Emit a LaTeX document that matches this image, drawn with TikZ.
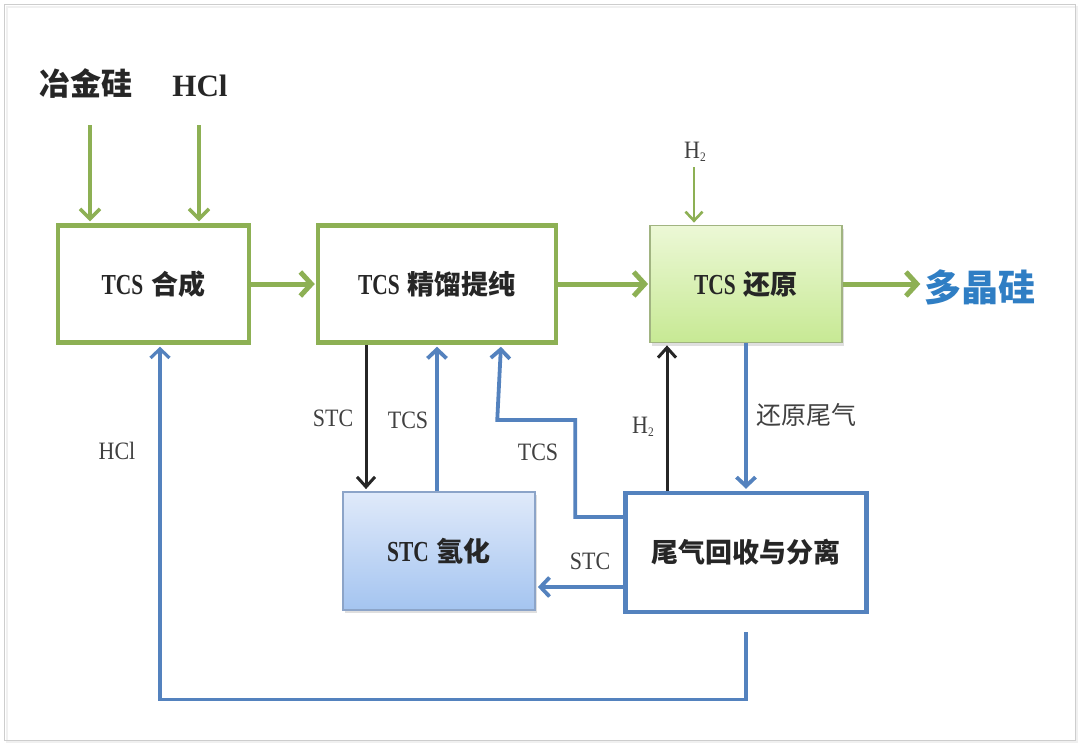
\documentclass[tikz,border=0pt]{standalone}
\usepackage{fontspec}
\setmainfont{Liberation Serif}
\newfontfamily\cjk{Noto Sans CJK SC}
\newfontfamily\latc{Liberation Serif Bold}[FakeStretch=0.74]
\newfontfamily\latm{Liberation Serif}[FakeStretch=0.88]
\usetikzlibrary{arrows.meta,shadows}
\definecolor{cgreen}{RGB}{141,176,84}
\definecolor{cblue}{RGB}{84,130,190}
\definecolor{ctext}{RGB}{47,126,196}
\definecolor{cframe}{RGB}{205,205,205}
\newcommand\boxlab[2]{{\latc\fontsize{29}{32}\selectfont #1}\hspace{0.3em}{\cjk\bfseries #2}}
\newcommand\htwo{H\raisebox{-3pt}{\fontsize{13}{13}\selectfont 2}}
\begin{document}
\begin{tikzpicture}[x=1pt,y=-1pt,
  boxtext/.style={font=\fontsize{27}{30}\selectfont, text=black!85},
  gbox/.style={boxtext, draw=cgreen, line width=4.5pt, fill=white, rectangle, inner sep=0pt},
  bbox/.style={boxtext, draw=cblue, line width=4.5pt, fill=white, rectangle, inner sep=0pt},
  redbox/.style={boxtext, draw=cgreen!70!gray!80, line width=1.8pt, top color={rgb,255:red,236;green,248;blue,214}, bottom color={rgb,255:red,199;green,233;blue,148}, rectangle, inner sep=0pt, drop shadow={opacity=0.25, shadow xshift=2pt, shadow yshift=-3pt}},
  hydbox/.style={boxtext, draw={rgb,255:red,140;green,164;blue,200}, line width=1.8pt, top color={rgb,255:red,224;green,234;blue,250}, bottom color={rgb,255:red,164;green,196;blue,240}, rectangle, inner sep=0pt, drop shadow={opacity=0.25, shadow xshift=2pt, shadow yshift=-3pt}},
  garrow/.style={draw=cgreen, line width=5pt, -{Straight Barb[length=11pt,width=24pt]}, shorten >=1pt},
  gtarrow/.style={draw=cgreen, line width=3.5pt, -{Straight Barb[length=10pt,width=20pt]}, shorten >=2pt},
  gharrow/.style={draw=cgreen, line width=2.6pt, -{Straight Barb[length=9pt,width=17pt]}, shorten >=2pt},
  barrow/.style={draw=cblue, line width=3.8pt, -{Straight Barb[length=9pt,width=19pt]}, shorten >=2pt},
  karrow/.style={draw=black!85, line width=3pt, -{Straight Barb[length=10pt,width=18pt]}, shorten >=2pt},
  lab/.style={font=\latm\fontsize{25}{27}\selectfont, text=black!75, inner sep=0pt},
  cnlab/.style={font=\cjk\fontsize{25}{27}\selectfont, text=black!75, inner sep=0pt},
  toplab/.style={font=\fontsize{31}{34}\selectfont, text=black!85, inner sep=0pt}
]
\useasboundingbox (0,0) rectangle (1080,745);
\fill[white] (0,0) rectangle (1080,745);
\draw[draw=black!6, line width=2pt] (7,7) rectangle (1077,742);
\draw[draw=cframe, line width=1pt] (4,4) rectangle (1075,740);

% boxes
\node[gbox, minimum width=191pt, minimum height=117pt] (syn) at (153.5,284) {\boxlab{TCS}{合成}};
\node[gbox, minimum width=238pt, minimum height=117pt] (pur) at (437,284) {\boxlab{TCS}{精馏提纯}};
\node[redbox, minimum width=192pt, minimum height=117pt] (red) at (746,284) {\boxlab{TCS}{还原}};
\node[hydbox, minimum width=192pt, minimum height=118pt] (hyd) at (439,551) {\boxlab{STC}{氢化}};
\node[bbox, minimum width=241pt, minimum height=119pt] (sep) at (746,552.5) {{\cjk\bfseries 尾气回收与分离}};

% top inputs
\node[toplab] (mg) at (86,84) {\cjk\bfseries 冶金硅};
\node[toplab] (hcl) at (200,86) {\bfseries HCl};
\node[font=\cjk\bfseries\fontsize{37}{40}\selectfont, text=ctext, inner sep=3pt] (poly) at (980,287) {多晶硅};
\node[lab] (h2in) at (695,152) {\htwo};

\coordinate (x90) at (90,0);
\coordinate (x199) at (199,0);
\coordinate (x366) at (366,0);
\coordinate (x437) at (437,0);
\coordinate (x501) at (501,0);
\coordinate (x667) at (667,0);
\coordinate (x694) at (694,0);
\coordinate (x160) at (160,0);
\coordinate (y517) at (0,517);
\coordinate (y587) at (0,587);
\coordinate (mgs) at (90,125);
\coordinate (hcls) at (199,125);
\coordinate (h2s) at (694,167);

\draw[gtarrow] (mgs) -- (syn.north -| x90);
\draw[gtarrow] (hcls) -- (syn.north -| x199);
\draw[gharrow] (h2s) -- (red.north -| x694);

\draw[garrow] (syn.east) -- (pur.west);
\draw[garrow] (pur.east) -- (red.west);
\draw[garrow] (red.east) -- (red.east -| poly.west);

% middle connections
\draw[karrow] (pur.south -| x366) -- (hyd.north -| x366);
\draw[barrow] (hyd.north -| x437) -- (pur.south -| x437);
\draw[barrow] (sep.west |- y517) -- ++(-48,0) -- ++(0,-97) -- ++(-78,0) -- (pur.south -| x501);
\draw[karrow] (sep.north -| x667) -- (red.south -| x667);
\draw[barrow] (red.south) -- (sep.north);
\draw[barrow] (sep.west |- y587) -- (hyd.east |- y587);
\draw[barrow, line width=3.2pt] (sep.south) ++(0,18) -- ++(0,67) -| (syn.south -| x160);

% labels
\node[lab] at (333,418) {STC};
\node[lab] at (408,420) {TCS};
\node[lab] at (538,452) {TCS};
\node[lab] at (643,427) {\htwo};
\node[cnlab] at (806,415) {还原尾气};
\node[lab] at (590,561) {STC};
\node[lab] at (117,451) {HCl};
\end{tikzpicture}
\end{document}
